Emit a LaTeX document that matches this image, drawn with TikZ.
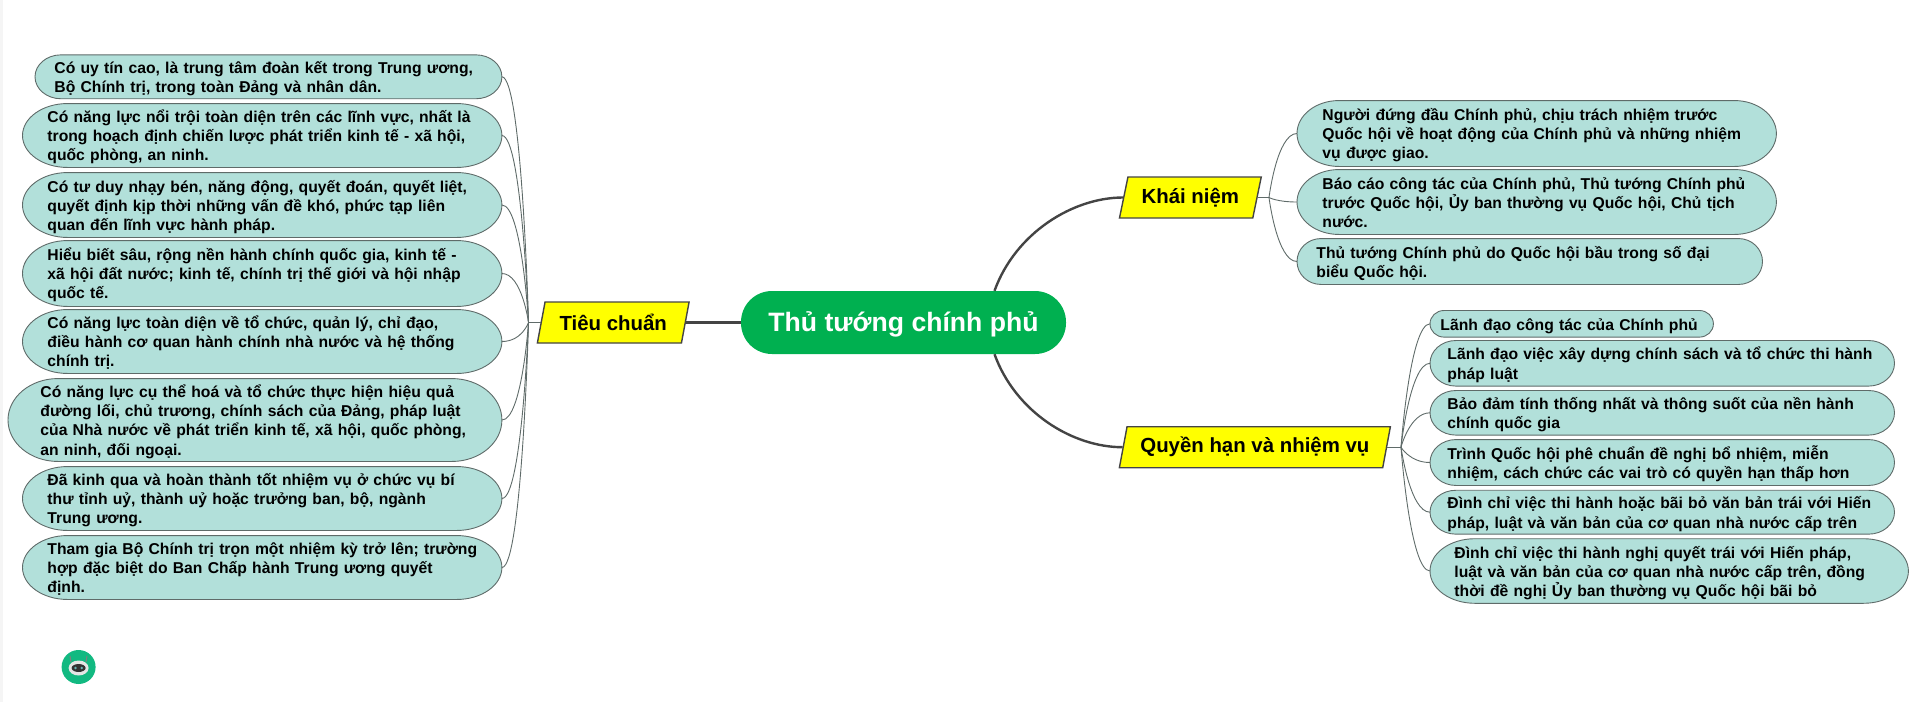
\documentclass[tikz,border=0pt]{standalone}
\usepackage{fontspec}
\setmainfont{Liberation Sans}
\usetikzlibrary{shapes.geometric}
\definecolor{leaffill}{HTML}{B2E0DA}
\definecolor{leafline}{HTML}{5F6B69}
\definecolor{titlegreen}{HTML}{00B050}
\definecolor{badgegreen}{HTML}{12B981}
\definecolor{topicyellow}{HTML}{FFFF00}
\definecolor{branchgray}{HTML}{444444}
% box with elliptical ends, \pillrx is the width of an end
\makeatletter
\pgfdeclareshape{pill}{
	\inheritsavedanchors[from=rectangle]
	\inheritanchorborder[from=rectangle]
	\inheritanchor[from=rectangle]{center}
	\inheritanchor[from=rectangle]{north}
	\inheritanchor[from=rectangle]{south}
	\inheritanchor[from=rectangle]{east}
	\inheritanchor[from=rectangle]{west}
	\backgroundpath{
		\southwest \edef\pillxa{\the\pgf@x}\edef\pillya{\the\pgf@y}
		\northeast \edef\pillxb{\the\pgf@x}\edef\pillyb{\the\pgf@y}
		\pgfmathsetmacro\pillry{(\pillyb-\pillya)/2}
		\pgfpathmoveto{\pgfpoint{\pillxa}{\pillya+\pillry pt}}
		\pgfpatharc{180}{90}{\pillrx and \pillry pt}
		\pgfpathlineto{\pgfpoint{\pillxb-\pillrx}{\pillyb}}
		\pgfpatharc{90}{-90}{\pillrx and \pillry pt}
		\pgfpathlineto{\pgfpoint{\pillxa+\pillrx}{\pillya}}
		\pgfpatharc{270}{180}{\pillrx and \pillry pt}
		\pgfpathclose
	}
}
\makeatother
\tikzset{
	leaf/.style n args={3}{shape=pill, draw=leafline, fill=leaffill, line width=0.9pt, anchor=west, align=left,
		/utils/exec={\def\pillrx{#1}}, minimum height=#2, inner xsep=#3, inner ysep=0pt,
		execute at begin node={\rule{0pt}{17.5pt}}, execute at end node={\rule[-5pt]{0pt}{5pt}},
		font=\fontsize{15.7pt}{19.2pt}\selectfont\bfseries},
	topic/.style={trapezium, trapezium left angle=75.5, trapezium right angle=104.5, trapezium stretches=true,
		draw=branchgray, fill=topicyellow, line width=1.4pt, minimum height=41pt, anchor=west, inner xsep=0pt,
		font=\fontsize{20.4pt}{24pt}\selectfont\bfseries},
	twig/.style={draw=leafline, line width=0.9pt},
	branch/.style={draw=branchgray, line width=2.4pt},
}
\begin{document}
\begin{tikzpicture}[x=1pt,y=-1pt]
	\useasboundingbox (0,0) rectangle (1909,702);
	\fill [gray!8] (0,0) rectangle (3,702);

	% centre and the three topics
	\node [fill=titlegreen, text=white, rounded corners=31pt, minimum width=325pt, minimum height=63pt,
		text height=18.4pt, text depth=0pt,
		font=\fontsize{26.6pt}{32pt}\selectfont\bfseries] (title) at (903.5,322.5) {Thủ tướng chính phủ};
	\node [topic, minimum width=152pt] (tieuchuan) at (540.5,322.5) {Tiêu chuẩn};
	\node [topic, minimum width=142pt] (khainiem) at (1123,197.5) {Khái niệm};
	\node [topic, minimum width=272pt] (quyenhan) at (1122.5,447.2) {Quyền hạn và nhiệm vụ};

	\coordinate (hubt) at (528.5,322.5);
	\coordinate (hubk) at (1269,197.5);
	\coordinate (hubq) at (1401,447.2);

	% left column
	\node [leaf={26pt}{43pt}{19pt}, text width=428pt] (t1) at (35,76.8) {Có uy tín cao, là trung tâm đoàn kết trong Trung ương,\\Bộ Chính trị, trong toàn Đảng và nhân dân.};
	\node [leaf={45pt}{63pt}{24.5pt}, text width=429.5pt] (t2) at (22.5,135.5) {Có năng lực nổi trội toàn diện trên các lĩnh vực, nhất là\\trong hoạch định chiến lược phát triển kinh tế - xã hội,\\quốc phòng, an ninh.};
	\node [leaf={45pt}{64pt}{24.5pt}, text width=429.5pt] (t3) at (22.5,205) {Có tư duy nhạy bén, năng động, quyết đoán, quyết liệt,\\quyết định kịp thời những vấn đề khó, phức tạp liên\\quan đến lĩnh vực hành pháp.};
	\node [leaf={45pt}{65pt}{24.5pt}, text width=429.5pt] (t4) at (22.5,273.5) {Hiểu biết sâu, rộng nền hành chính quốc gia, kinh tế -\\xã hội đất nước; kinh tế, chính trị thế giới và hội nhập\\quốc tế.};
	\node [leaf={45pt}{63pt}{24.5pt}, text width=429.5pt] (t5) at (22.5,341.5) {Có năng lực toàn diện về tổ chức, quản lý, chỉ đạo,\\điều hành cơ quan hành chính nhà nước và hệ thống\\chính trị.};
	\node [leaf={50pt}{82pt}{32pt}, text width=429pt] (t6) at (8,420) {Có năng lực cụ thể hoá và tổ chức thực hiện hiệu quả\\đường lối, chủ trương, chính sách của Đảng, pháp luật\\của Nhà nước về phát triển kinh tế, xã hội, quốc phòng,\\an ninh, đối ngoại.};
	\node [leaf={45pt}{63pt}{24.5pt}, text width=429.5pt] (t7) at (22.5,498.5) {Đã kinh qua và hoàn thành tốt nhiệm vụ ở chức vụ bí\\thư tỉnh uỷ, thành uỷ hoặc trưởng ban, bộ, ngành\\Trung ương.};
	\node [leaf={45pt}{63pt}{24.5pt}, text width=429.5pt] (t8) at (22.5,567.5) {\mbox{Tham gia Bộ Chính trị trọn một nhiệm kỳ trở lên; trường}\\hợp đặc biệt do Ban Chấp hành Trung ương quyết\\định.};

	% right column, upper group
	\node [leaf={42pt}{65pt}{25pt}, text width=428.5pt] (k1) at (1297,133.5) {Người đứng đầu Chính phủ, chịu trách nhiệm trước\\Quốc hội về hoạt động của Chính phủ và những nhiệm\\vụ được giao.};
	\node [leaf={42pt}{64pt}{25pt}, text width=428.5pt] (k2) at (1297,202) {Báo cáo công tác của Chính phủ, Thủ tướng Chính phủ\\trước Quốc hội, Ủy ban thường vụ Quốc hội, Chủ tịch\\nước.};
	\node [leaf={24pt}{45pt}{19pt}, text width=426.6pt] (k3) at (1297,261.5) {Thủ tướng Chính phủ do Quốc hội bầu trong số đại\\biểu Quốc hội.};

	% right column, lower group
	\node [leaf={14pt}{25.7pt}{10pt}, text width=262.5pt] (q1) at (1430,323.8) {Lãnh đạo công tác của Chính phủ};
	\node [leaf={26pt}{44.7pt}{17pt}, text width=429.6pt] (q2) at (1430,363.3) {Lãnh đạo việc xây dựng chính sách và tổ chức thi hành\\pháp luật};
	\node [leaf={26pt}{43.7pt}{17pt}, text width=429.6pt] (q3) at (1430,412.8) {Bảo đảm tính thống nhất và thông suốt của nền hành\\chính quốc gia};
	\node [leaf={26pt}{45pt}{17pt}, text width=429.6pt] (q4) at (1430,462.5) {Trình Quốc hội phê chuẩn đề nghị bổ nhiệm, miễn\\nhiệm, cách chức các vai trò có quyền hạn thấp hơn};
	\node [leaf={26pt}{43pt}{17pt}, text width=429.6pt] (q5) at (1430,512.2) {Đình chỉ việc thi hành hoặc bãi bỏ văn bản trái với Hiến\\pháp, luật và văn bản của cơ quan nhà nước cấp trên};
	\node [leaf={45pt}{63.7pt}{24pt}, text width=429.5pt] (q6) at (1430,571) {Đình chỉ việc thi hành nghị quyết trái với Hiến pháp,\\luật và văn bản của cơ quan nhà nước cấp trên, đồng\\thời đề nghị Ủy ban thường vụ Quốc hội bãi bỏ};

	% connectors
	\draw [branch] (tieuchuan.east) -- (title.west);
	\draw [branch] ([xshift=91pt]title.north) .. controls +(21,-58) and +(-50,0) .. (khainiem.west);
	\draw [branch] ([xshift=91pt]title.south) .. controls +(21,58) and +(-50,0) .. (quyenhan.west);

	\draw [twig] (tieuchuan.west) -- (hubt);
	\draw [twig] (khainiem.east) -- (hubk);
	\draw [twig] (quyenhan.east) -- (hubq);
	\foreach \n in {t1,t2,t3,t4,t5,t6,t7,t8}
		\draw [twig] (\n.east) .. controls +(20,0) and (hubt) .. (hubt);
	\foreach \n in {k1,k2,k3}
		\draw [twig] (hubk) .. controls (hubk) and +(-20,0) .. (\n.west);
	\foreach \n in {q1,q2,q3,q4,q5,q6}
		\draw [twig] (hubq) .. controls (hubq) and +(-20,0) .. (\n.west);

	% robot badge
	\fill [badgegreen] (78.6,667) circle (17);
	\draw [gray, line width=1pt] (71,662) -- (70,656) (86,662) -- (87,656);
	\fill [white!90!black] (78.6,668) ellipse (10 and 7.5);
	\fill [black!80] (78.6,668) ellipse (7 and 4);
	\fill [teal!60] (75.5,668) circle (1.4) (81.7,668) circle (1.4);
\end{tikzpicture}
\end{document}
